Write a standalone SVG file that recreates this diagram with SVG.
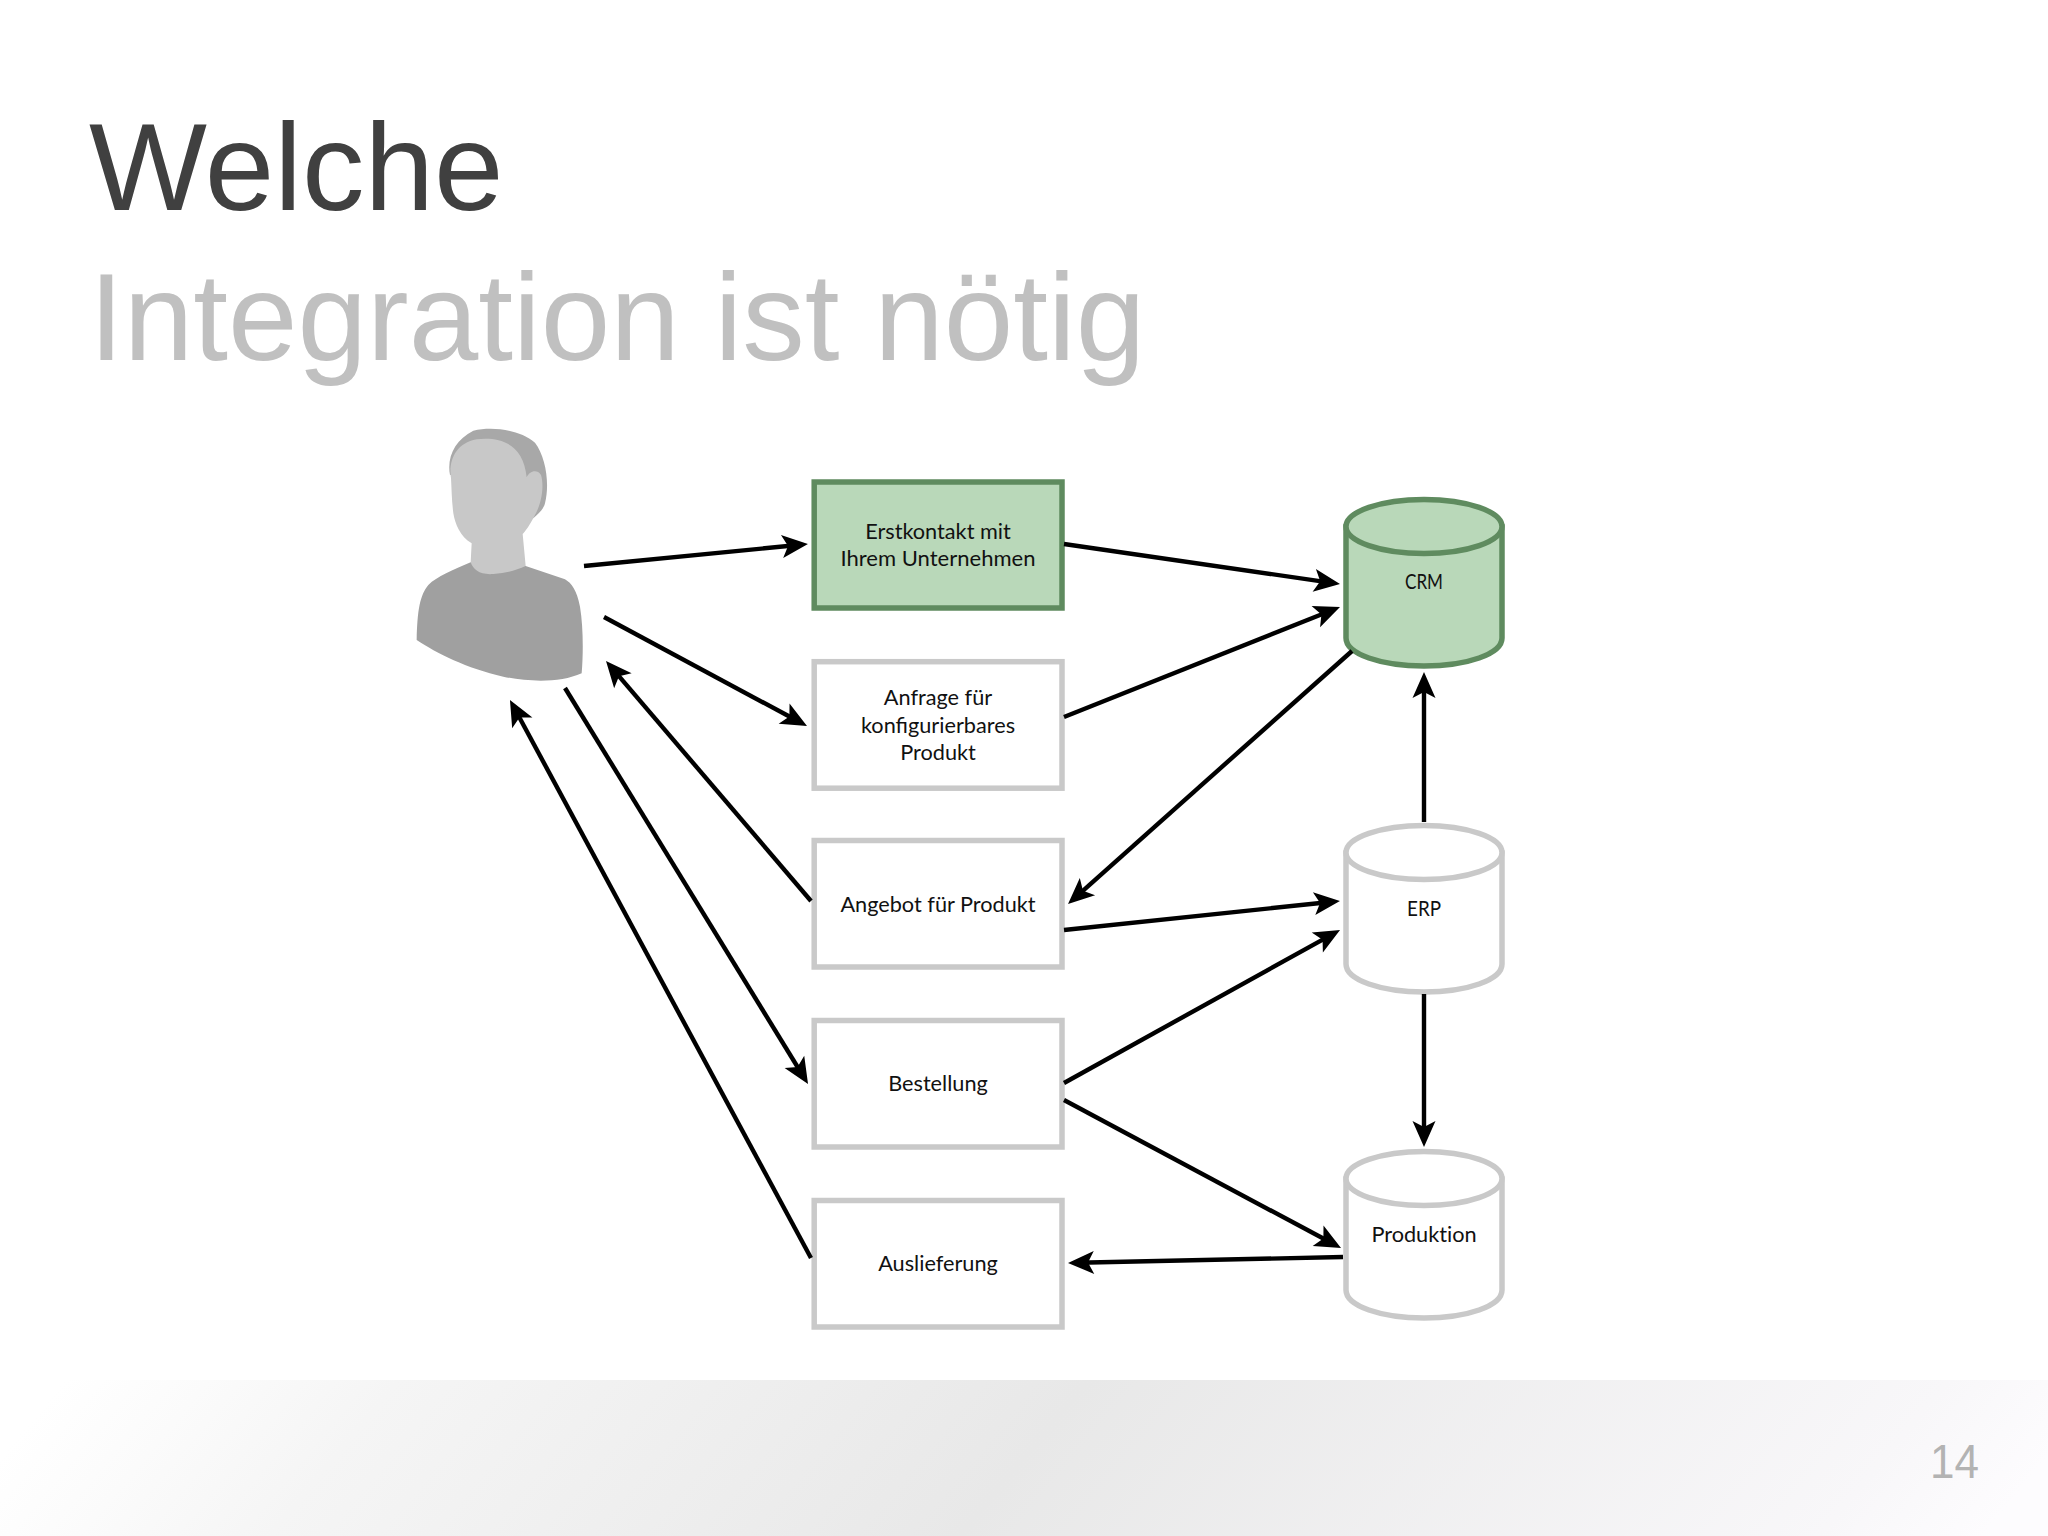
<svg xmlns="http://www.w3.org/2000/svg" width="2048" height="1536" viewBox="0 0 2048 1536">
<style>
.title{font-family:"Liberation Sans",Arial,sans-serif;font-size:125px}
.lbl{font-family:"Lato","Noto Sans",sans-serif;font-size:21.7px;fill:#111;text-anchor:middle}
.box{stroke:#c9c9c9;stroke-width:5.500;fill:#fff}
.boxg{stroke:#5f8b5f;stroke-width:5.500;fill:#b9d8b9}
.cyl{stroke:#c9c9c9;stroke-width:5.500;fill:#fff}
.cylg{stroke:#5f8b5f;stroke-width:5.500;fill:#b9d8b9}
.c line{stroke:#000;stroke-width:4.400;marker-end:url(#ah)}
</style>
<defs>
<marker id="ah" markerUnits="userSpaceOnUse" markerWidth="30" markerHeight="26" refX="16" refY="11.500" orient="auto" overflow="visible"><path d="M0,0L26,11.500L0,23L6,11.500Z" fill="#000"/></marker>
<linearGradient id="band" gradientUnits="userSpaceOnUse" x1="0" y1="1458" x2="1209" y2="2465"><stop offset="0" stop-color="#fff"/><stop offset=".07" stop-color="#fbfbfb"/><stop offset=".163" stop-color="#f5f5f5"/><stop offset=".5" stop-color="#e8e8e8"/><stop offset=".92" stop-color="#f8f7f9"/><stop offset="1" stop-color="#fdfcfe"/></linearGradient>
<path id="cylbody" d="M-78,-41V70C-78,86 -43,98 0,98C43,98 78,86 78,70V-41Z"/>
</defs>
<rect width="2048" height="1536" fill="#fff"/>
<rect id="band-bg" x="0" y="1380" width="2048" height="156" fill="url(#band)"/>
<text class="title" x="89" y="210" fill="#404040">Welche</text>
<text class="title" x="89" y="360" fill="#c0c0c0">Integration ist nötig</text>
<text x="1930" y="1478" font-family="Liberation Sans,sans-serif" font-size="49" textLength="49" lengthAdjust="spacingAndGlyphs" fill="#b3b3b3">14</text>
<g id="person" transform="translate(380,400) scale(.33333)">
<path fill="#a0a0a0" d="M272,487C220,510 170,530 145,555C120,585 112,630 110,720C170,760 260,805 370,830C440,845 540,850 605,820C610,760 610,680 600,620C590,570 575,550 555,538L437,498Z"/>
<path fill="#a8a8a8" d="M210,225C200,170 225,120 280,92C340,78 420,90 465,128C497,170 510,250 495,310C490,330 475,340 460,355L400,200Z"/>
<path fill="#c8c8c8" d="M213,235C205,185 225,130 290,118C360,110 430,130 440,232C447,215 470,205 483,225C495,265 480,320 465,345C450,375 435,395 428,402L437,498C410,510 380,520 340,522C300,525 280,510 272,487L275,430C240,410 225,370 220,340C215,300 215,270 213,235Z"/>
</g>
<g id="n1"><rect class="boxg" x="814.200" y="482" width="247.800" height="126"/><text class="lbl" x="938" y="538.500">Erstkontakt mit</text><text class="lbl" x="938" y="566" textLength="195" lengthAdjust="spacingAndGlyphs">Ihrem Unternehmen</text></g>
<g id="n2"><rect class="box" x="814.200" y="661.700" width="247.800" height="126.500"/><text class="lbl" x="938" y="705">Anfrage für</text><text class="lbl" x="938" y="732.500">konfigurierbares</text><text class="lbl" x="938" y="760">Produkt</text></g>
<g id="n3"><rect class="box" x="814.200" y="840.500" width="247.800" height="126.500"/><text class="lbl" x="938" y="911.700">Angebot für Produkt</text></g>
<g id="n4"><rect class="box" x="814.200" y="1020.500" width="247.800" height="126.500"/><text class="lbl" x="938" y="1091">Bestellung</text></g>
<g id="n5"><rect class="box" x="814.200" y="1200.500" width="247.800" height="126.500"/><text class="lbl" x="938" y="1271">Auslieferung</text></g>
<g id="crm" transform="translate(1424,568)"><use href="#cylbody" class="cylg"/><ellipse class="cylg" cx="0" cy="-41.500" rx="78" ry="27"/><text class="lbl" x="0" y="21" textLength="38" lengthAdjust="spacingAndGlyphs">CRM</text></g>
<g id="erp" transform="translate(1424,894)"><use href="#cylbody" class="cyl"/><ellipse class="cyl" cx="0" cy="-41.500" rx="78" ry="27"/><text class="lbl" x="0" y="22" textLength="34" lengthAdjust="spacingAndGlyphs">ERP</text></g>
<g id="prod" transform="translate(1424,1220)"><use href="#cylbody" class="cyl"/><ellipse class="cyl" cx="0" cy="-41.500" rx="78" ry="27"/><text class="lbl" x="0" y="22" style="font-variant-ligatures:none">Produktion</text></g>
<g id="connectors" class="c">
<line x1="584" y1="566" x2="798" y2="545"/>
<line x1="604" y1="617" x2="798.200" y2="721.300"/>
<line x1="811" y1="901" x2="612.500" y2="668.600"/>
<line x1="565" y1="688" x2="802.800" y2="1075.500"/>
<line x1="811" y1="1258" x2="514.700" y2="708.800"/>
<line x1="1064" y1="544" x2="1330.100" y2="582.600"/>
<line x1="1064" y1="717" x2="1330.700" y2="610.700"/>
<line x1="1352" y1="651" x2="1075.500" y2="897.300"/>
<line x1="1424" y1="822" x2="1424" y2="682"/>
<line x1="1064" y1="930" x2="1330" y2="902"/>
<line x1="1064" y1="1083" x2="1331.300" y2="934.800"/>
<line x1="1064" y1="1100" x2="1332.200" y2="1243.300"/>
<line x1="1424" y1="994" x2="1424" y2="1137"/>
<line x1="1343" y1="1257" x2="1078" y2="1262.800"/>
</g>
</svg>
